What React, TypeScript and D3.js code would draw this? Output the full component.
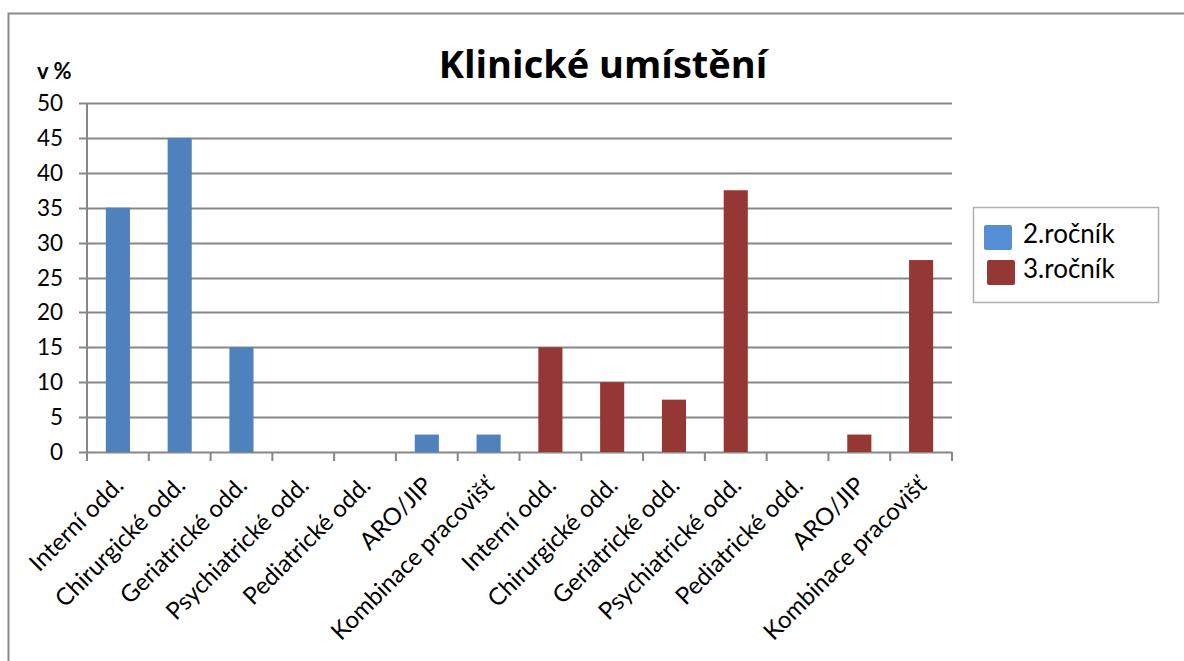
import React, { useEffect, useRef } from 'react'
import * as d3 from 'd3'

// oddělení (kategorie na ose x)
const categories = [
	'Interní odd.',
	'Chirurgické odd.',
	'Geriatrické odd.',
	'Psychiatrické odd.',
	'Pediatrické odd.',
	'ARO/JIP',
	'Kombinace pracovišť',
	'Interní odd.',
	'Chirurgické odd.',
	'Geriatrické odd.',
	'Psychiatrické odd.',
	'Pediatrické odd.',
	'ARO/JIP',
	'Kombinace pracovišť',
]
const rocnik2 = [35, 45, 15, 0, 0, 2.5, 2.5, null, null, null, null, null, null, null]
const rocnik3 = [null, null, null, null, null, null, null, 15, 10, 7.5, 37.5, 0, 2.5, 27.5]
const yTicks = [0, 5, 10, 15, 20, 25, 30, 35, 40, 45, 50]
const seriesNames = ['2.ročník', '3.ročník']

const W = 1184
const H = 661
const font = 'Lato, "Open Sans", sans-serif'

export default function App() {
	const ref = useRef<SVGSVGElement>(null)

	useEffect(() => {
		const svg = d3.select(ref.current)
		svg.selectAll('*').remove()

		const left = 87
		const right = 952
		const top = 103
		const bottom = 452

		const x = d3.scaleBand<number>().domain(d3.range(categories.length)).range([left, right])
		const y = d3.scaleLinear().domain([0, 50]).range([bottom, top])
		const grey = '#878787'

		// rámeček grafu
		svg.append('rect')
			.attr('x', 8.5).attr('y', 13.5)
			.attr('width', W).attr('height', H)
			.attr('fill', 'none').attr('stroke', '#8a8a8a').attr('stroke-width', 2)

		svg.append('text')
			.attr('x', 603).attr('y', 78)
			.attr('text-anchor', 'middle')
			.attr('font-family', '"Open Sans", sans-serif').attr('font-weight', 'bold').attr('font-size', 38)
			.text('Klinické umístění')

		svg.append('text')
			.attr('x', 37).attr('y', 79)
			.attr('font-family', font).attr('font-weight', 'bold').attr('font-size', 22)
			.text('v %')

		// mřížka + popisky osy y
		const gy = svg.append('g')
		gy.selectAll('line').data(yTicks).join('line')
			.attr('x1', left - 8).attr('x2', right)
			.attr('y1', d => Math.round(y(d)) + 0.5).attr('y2', d => Math.round(y(d)) + 0.5)
			.attr('stroke', grey).attr('stroke-width', 2)
		gy.selectAll('text').data(yTicks).join('text')
			.attr('x', 63).attr('y', d => y(d) + 8)
			.attr('text-anchor', 'end')
			.attr('font-family', font).attr('font-size', 22.5)
			.text(d => d)

		svg.append('line')
			.attr('x1', left).attr('x2', left).attr('y1', top).attr('y2', bottom)
			.attr('stroke', grey).attr('stroke-width', 2)

		// značky na ose x
		const bounds = d3.range(categories.length + 1).map(i => left + i * x.bandwidth())
		svg.append('g').selectAll('line').data(bounds).join('line')
			.attr('x1', d => d).attr('x2', d => d)
			.attr('y1', bottom).attr('y2', bottom + 9)
			.attr('stroke', grey).attr('stroke-width', 2)

		const bw = x.bandwidth() * 0.39
		const drawSeries = (vals: (number | null)[], color: string) => {
			svg.append('g').selectAll('rect')
				.data(vals.map((v, i) => ({ v, i })).filter(d => d.v !== null && d.v > 0))
				.join('rect')
				.attr('x', d => x(d.i)! + (x.bandwidth() - bw) / 2)
				.attr('width', bw)
				.attr('y', d => y(d.v as number))
				.attr('height', d => bottom - y(d.v as number))
				.attr('fill', color)
		}
		drawSeries(rocnik2, '#4f81bd')
		drawSeries(rocnik3, '#953735')

		// popisky kategorií pod úhlem 45°
		svg.append('g').selectAll('text').data(categories).join('text')
			.attr('transform', (d, i) => `translate(${x(i)! + x.bandwidth() / 2 + 7},${bottom + 35}) rotate(-45)`)
			.attr('text-anchor', 'end')
			.attr('font-family', font).attr('font-size', 24)
			.text(d => d)

		// legenda
		const lg = svg.append('g')
		lg.append('rect')
			.attr('x', 973.5).attr('y', 207.5).attr('width', 185).attr('height', 95)
			.attr('fill', 'white').attr('stroke', '#b0b0b0').attr('stroke-width', 1.5)
		const legendColors = ['#558ed5', '#953735']
		seriesNames.forEach((name, i) => {
			lg.append('rect')
				.attr('x', 984 + i * 3).attr('y', 225 + i * 35).attr('width', 28).attr('height', 25)
				.attr('rx', 2).attr('fill', legendColors[i])
			lg.append('text')
				.attr('x', 1023).attr('y', 243 + i * 35)
				.attr('font-family', font).attr('font-size', 26)
				.text(name)
		})
	}, [])

	return (
		<svg
			ref={ref}
			width={W}
			height={H}
			style={{ position: 'absolute', left: 0, top: 0, background: 'white' }}
		/>
	)
}
